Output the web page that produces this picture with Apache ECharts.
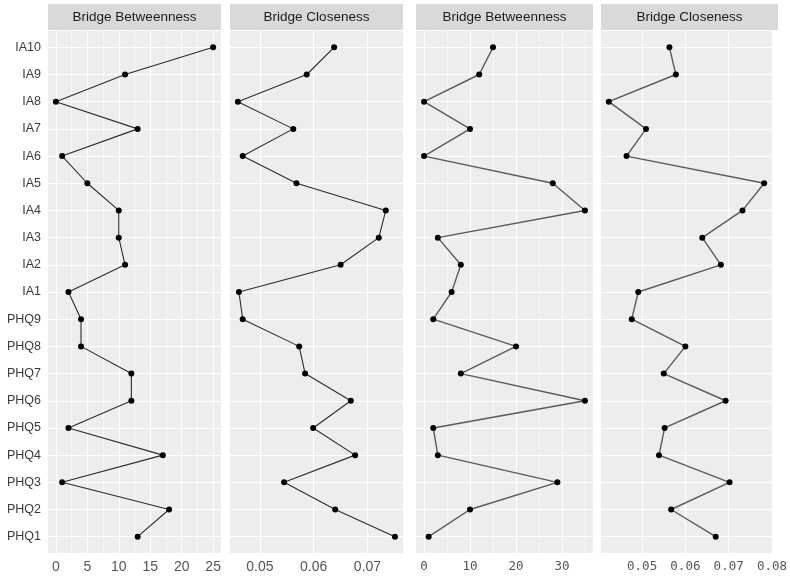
<!DOCTYPE html>
<html><head><meta charset="utf-8">
<script src="https://cdn.jsdelivr.net/npm/echarts@6/dist/echarts.min.js"></script>
<style>html,body{margin:0;padding:0;background:#fff}#c{width:790px;height:581px}</style>
</head><body><div id="c"></div>
<script>
// categories from bottom to top
const categories = ['PHQ1','PHQ2','PHQ3','PHQ4','PHQ5','PHQ6','PHQ7','PHQ8','PHQ9',
  'IA1','IA2','IA3','IA4','IA5','IA6','IA7','IA8','IA9','IA10'];
const stripTitles = ['Bridge Betweenness','Bridge Closeness','Bridge Betweenness','Bridge Closeness'];
const betweenness1 = [13,18,1,17,2,12,12,4,4, 2,11,10,10,5,1,13,0,11,25];
const closeness1 = [0.0751,0.0640,0.0545,0.0677,0.0599,0.0669,0.0584,0.0573,0.0468,
  0.0461,0.0650,0.0721,0.0734,0.0568,0.0468,0.0562,0.0459,0.0587,0.0638];
const betweenness2 = [1,10,29,3,2,35,8,20,2, 6,8,3,35,28,0,10,0,12,15];
const closeness2 = [0.0670,0.0567,0.0702,0.0539,0.0552,0.0693,0.0550,0.0600,0.0476,
  0.0491,0.0682,0.0639,0.0732,0.0782,0.0464,0.0509,0.0423,0.0578,0.0563];
const ticks1 = [0,5,10,15,20,25];
const minor1 = [2.5,7.5,12.5,17.5,22.5];
const ticks2 = [0.05,0.06,0.07];
const minor2 = [0.045,0.055,0.065,0.075];
const ticks3 = [0,10,20,30];
const minor3 = [5,15,25,35];
const ticks4 = [0.05,0.06,0.07,0.08];
const minor4 = [0.045,0.055,0.065,0.075];

const panels = [
  {data: betweenness1, ticks: ticks1, minor: minor1, left: 48, width: 173, min: -1.25, max: 26.25, font: 'Liberation Sans', fs: 14, line: '#2b2b2b', lw: 1.1, yLabels: true, yTicks: true},
  {data: closeness1, ticks: ticks2, minor: minor2, left: 230, width: 173, min: 0.04444, max: 0.0766, font: 'Liberation Sans', fs: 14, line: '#2b2b2b', lw: 1.1, yLabels: false, yTicks: false},
  {data: betweenness2, ticks: ticks3, minor: minor3, left: 416, width: 177, min: -1.75, max: 36.75, font: 'DejaVu Sans Mono', fs: 12.5, line: '#5a5a5a', lw: 1.4, yLabels: false, yTicks: true},
  {data: closeness2, ticks: ticks4, minor: minor4, left: 601, width: 177, min: 0.0405, max: 0.0800, font: 'DejaVu Sans Mono', fs: 12.5, line: '#5a5a5a', lw: 1.4, yLabels: false, yTicks: false}
];
const TOP = 31, HEIGHT = 522, STRIP_TOP = 4, STRIP_H = 26;
const catIdx = categories.map((c, i) => i);

const grid = [], xAxis = [], yAxis = [], series = [], graphic = [];
panels.forEach((p, k) => {
  grid.push({left: p.left, top: TOP, width: p.width, height: HEIGHT, show: true,
    backgroundColor: '#EDEDED', borderWidth: 0, containLabel: false});
  xAxis.push({type: 'value', gridIndex: k, min: p.min, max: p.max,
    axisLine: {show: false}, splitLine: {show: false},
    axisTick: {show: true, customValues: p.ticks, length: 4, lineStyle: {color: '#333', width: 1}},
    axisLabel: {customValues: p.ticks, margin: 7, color: '#555', fontFamily: p.font, fontSize: p.fs,
      showMinLabel: true, showMaxLabel: true}});
  yAxis.push({type: 'value', gridIndex: k, min: -0.6, max: 18.6,
    axisLine: {show: false}, splitLine: {show: false},
    axisTick: {show: p.yTicks, customValues: catIdx, length: 4, lineStyle: {color: '#333', width: 1}},
    axisLabel: {show: p.yLabels, customValues: catIdx, margin: 7, color: '#3a3a3a',
      fontFamily: 'Liberation Sans Narrow, Liberation Sans', fontSize: 12.5,
      formatter: v => categories[Math.round(v)]}});
  const ml = [];
  p.minor.forEach(v => ml.push({xAxis: v, lineStyle: {color: '#fff', width: 0.6, type: 'solid'}}));
  p.ticks.forEach(v => ml.push({xAxis: v, lineStyle: {color: '#fff', width: 1.2, type: 'solid'}}));
  catIdx.forEach(v => ml.push({yAxis: v, lineStyle: {color: '#fff', width: 1.2, type: 'solid'}}));
  series.push({type: 'line', xAxisIndex: k, yAxisIndex: k, data: [], z: 1, silent: true,
    markLine: {silent: true, z: 1, symbol: ['none', 'none'], label: {show: false}, animation: false, data: ml}});
  series.push({type: 'line', xAxisIndex: k, yAxisIndex: k, z: 10,
    data: p.data.map((v, i) => [v, i]),
    symbol: 'circle', symbolSize: 6, showSymbol: true,
    itemStyle: {color: '#000'}, lineStyle: {color: p.line, width: p.lw}});
  graphic.push({type: 'rect', shape: {x: p.left, y: STRIP_TOP, width: p.width, height: STRIP_H},
    style: {fill: '#D9D9D9'}, z: 1});
  graphic.push({type: 'text', x: p.left + p.width / 2, y: STRIP_TOP + STRIP_H / 2,
    style: {text: stripTitles[k], fill: '#1a1a1a', font: '13.5px "Liberation Sans"', align: 'center', verticalAlign: 'middle'}, z: 2});
});

const chart = echarts.init(document.getElementById('c'));
chart.setOption({animation: false, grid, xAxis, yAxis, series, graphic});
</script></body></html>
